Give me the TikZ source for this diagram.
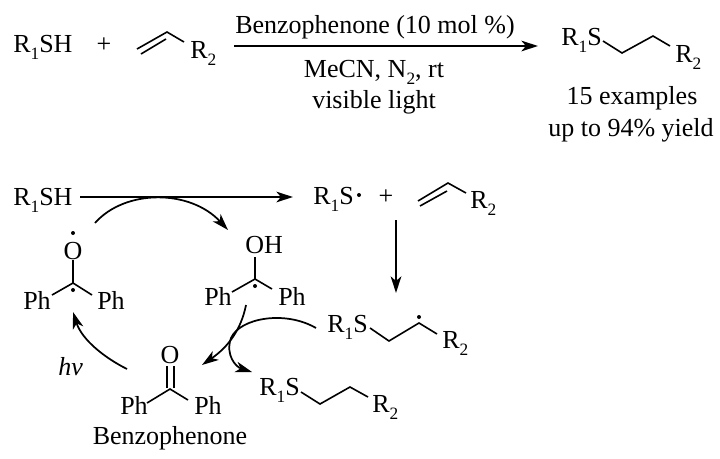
\documentclass[tikz,border=0pt]{standalone}
\usepackage{fontspec}
\setmainfont{Liberation Serif}
\usetikzlibrary{arrows.meta}
\newcommand*\sbs[1]{\raisebox{-0.62ex}{\fontsize{13}{15}\selectfont #1}}
\tikzset{
	lbl/.style={inner sep=0pt, anchor=base west, font=\fontsize{19.5}{22}\selectfont},
	ctr/.style={inner sep=0pt, anchor=base, font=\fontsize{19.5}{22}\selectfont},
	bond/.style={line width=1.2pt, line join=miter},
	rxn/.style={line width=1.3pt, -{Stealth[length=12.5pt,width=8pt,inset=3.5pt]}},
	rdot/.style={circle, fill=black, inner sep=0pt, minimum size=3pt}
}

\begin{document}
\begin{tikzpicture}[x=0.75pt, y=-0.75pt]
	\useasboundingbox (0,0) rectangle (720,458);

	% Top equation
	\node[lbl] (thiolA) at (13,52) {R\sbs{1}SH};
	\node[ctr] (plusA) at (104,52) {+};
	\node[lbl] (rtwoA) at (190,58) {R\sbs{2}};
	\draw[bond] (137,49) -- (167,32) -- (184,42);
	\draw[bond] (141,54) -- (166,39);
	\coordinate (arrA) at (234,46);
	\coordinate (arrB) at (538,46);
	\draw[rxn] (arrA) -- (arrB);
	\node[ctr] (cat) at (375,33) {Benzophenone (10 mol \%)};
	\node[ctr] (cond) at (374,77) {MeCN, N\sbs{2}, rt};
	\node[ctr] (light) at (374,108) {visible light};
	\node[lbl] (prodS) at (561,45) {R\sbs{1}S};
	\node[lbl] (prodR) at (675,62) {R\sbs{2}};
	\draw[bond] (603,41) -- (622,53) -- (653,36) -- (670,46);
	\node[ctr] (count) at (632,104) {15 examples};
	\node[ctr] (yield) at (631,136) {up to 94\% yield};

	% Radical chain
	\node[lbl] (thiolB) at (13,205) {R\sbs{1}SH};
	\node[lbl] (thiyl) at (313,204) {R\sbs{1}S};
	\node[rdot] (thiyldot) at (359,195) {};
	\node[ctr] (plusB) at (386,204) {+};
	\node[lbl] (rtwoB) at (470,208) {R\sbs{2}};
	\draw[bond] (418,201) -- (448,183) -- (466,193);
	\draw[bond] (420,206) -- (447,191);
	\coordinate (chainA) at (80,197);
	\coordinate (chainB) at (293,197);
	\draw[rxn] (chainA) -- (chainB);
	\coordinate (addA) at (396,220);
	\coordinate (addB) at (396,293);
	\draw[rxn] (addA) -- (addB);

	\node[lbl] (adductS) at (327,332) {R\sbs{1}S};
	\node[lbl] (adductR) at (442,348) {R\sbs{2}};
	\node[rdot] (adductdot) at (419,317) {};
	\draw[bond] (370,328) -- (389,341) -- (419,323) -- (437,334);

	\node[lbl] (finalS) at (259,395) {R\sbs{1}S};
	\node[lbl] (finalR) at (372,412) {R\sbs{2}};
	\draw[bond] (301,392) -- (320,404) -- (350,387) -- (368,397);

	% Ketyl oxygen radical
	\node[ctr] (oxyO) at (73,259) {O};
	\node[rdot] (oxydot) at (73,233) {};
	\node[lbl] (oxyL) at (23,309) {Ph};
	\node[lbl] (oxyR) at (97,309) {Ph};
	\node[rdot] (oxyC) at (73,290) {};
	\draw[bond] (73,260) -- (73,283) -- (52,295);
	\draw[bond] (73,283) -- (92,295);

	% Ketyl
	\node[lbl] (hydOH) at (245,253) {OH};
	\node[lbl] (hydL) at (204,305) {Ph};
	\node[lbl] (hydR) at (278,305) {Ph};
	\node[rdot] (hydC) at (255,286) {};
	\draw[bond] (255,257) -- (255,279) -- (232,292);
	\draw[bond] (255,279) -- (272,289);

	% Benzophenone
	\node[ctr] (ketO) at (170,363) {O};
	\node[lbl] (ketL) at (120,414) {Ph};
	\node[lbl] (ketR) at (194,414) {Ph};
	\draw[bond] (167,366) -- (167,388);
	\draw[bond] (174,366) -- (174,388);
	\draw[bond] (147,403) -- (170,389) -- (188,400);
	\node[ctr] (ketname) at (170,444) {Benzophenone};
	\node[lbl, font=\fontsize{19.5}{22}\selectfont\itshape] (hv) at (58,375) {hv};

	% Curved arrows
	\coordinate (loopA) at (95,223);
	\coordinate (loopB) at (228,230);
	\coordinate (loopC) at (246,305);
	\coordinate (loopD) at (202,365);
	\coordinate (loopE) at (316,328);
	\coordinate (loopF) at (252,372);
	\coordinate (loopG) at (127,369);
	\coordinate (loopH) at (73,312);
	\draw[rxn] (loopA) .. controls (125,189) and (190,189) .. (loopB);
	\draw[rxn] (loopC) .. controls (241,330) and (228,347) .. (loopD);
	\draw[rxn] (loopE) .. controls (285,310) and (240,318) .. (231,338) .. controls (225,355) and (236,367) .. (loopF);
	\draw[rxn] (loopG) .. controls (105,358) and (82,340) .. (loopH);
\end{tikzpicture}
\end{document}
